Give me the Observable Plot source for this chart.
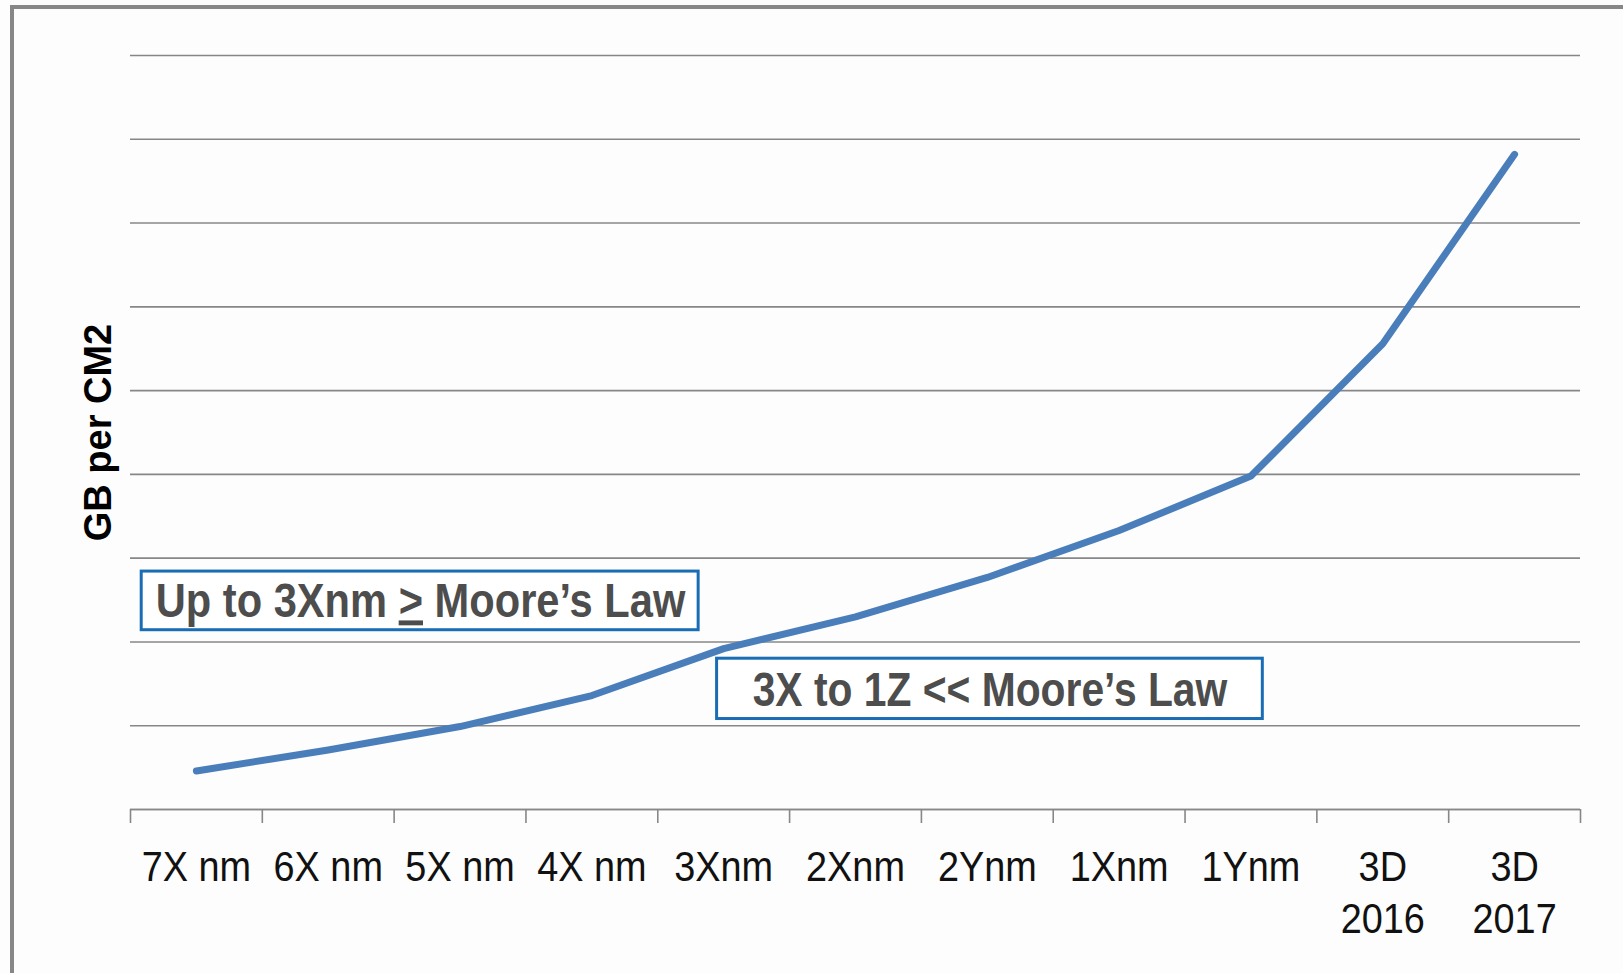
<!DOCTYPE html>
<html>
<head>
<meta charset="utf-8">
<script src="https://cdn.jsdelivr.net/npm/d3@7"></script>
<script src="https://cdn.jsdelivr.net/npm/@observablehq/plot@0.6"></script>
<style>
  html, body { margin: 0; padding: 0; background: #fdfdfd; overflow: hidden; }
  #wrap { position: relative; width: 1623px; height: 973px; }
  #frame { position: absolute; left: 10px; top: 5px; width: 2000px; height: 2000px;
           border-left: 4px solid #878787; border-top: 4px solid #878787; pointer-events: none; }
</style>
</head>
<body>
<div id="wrap"></div>
<script>
// ---- data ----
const categories = ["7X nm", "6X nm", "5X nm", "4X nm", "3Xnm", "2Xnm", "2Ynm", "1Xnm", "1Ynm", "3D\n2016", "3D\n2017"];
const density = [0.46, 0.71, 0.99, 1.36, 1.92, 2.30, 2.77, 3.33, 3.98, 5.56, 7.82];
const yTitle = "GB per CM2";
const noteLabels = ["Up to 3Xnm > Moore\u2019s Law", "3X to 1Z << Moore\u2019s Law"];

// ---- layout (annotation anchors in data units) ----
const noteLayout = [
  {x1: -0.415, x2: 3.81, y1: 2.14, y2: 2.84, tx: 1.70, ty: 2.48, size: 49},
  {x1: 3.95, x2: 8.09, y1: 1.08, y2: 1.80, tx: 6.02, ty: 1.42, size: 48}
];

const series = categories.map((c, i) => ({i, v: density[i]}));
const notes = noteLabels.map((label, k) => ({label, ...noteLayout[k]}));
const boundaries = d3.range(-0.5, categories.length, 1);
const gridColor = "#878787";
const sans = "'Liberation Sans', Arial, sans-serif";

const chart = Plot.plot({
  width: 1623,
  height: 973,
  marginLeft: 130,
  marginRight: 43,
  marginTop: 55,
  marginBottom: 164,
  style: {background: "transparent"},
  x: {type: "linear", domain: [-0.5, categories.length - 0.5], axis: null},
  y: {domain: [0, 9], axis: null},
  marks: [
    Plot.gridY({ticks: 9, stroke: gridColor, strokeOpacity: 1, strokeWidth: 1.6}),
    Plot.ruleY([0], {stroke: gridColor, strokeWidth: 1.6}),
    Plot.axisX(boundaries, {tickSize: 14, tickFormat: () => "", stroke: gridColor, strokeWidth: 1.6}),
    Plot.axisX(d3.range(categories.length), {
      tickSize: 0, tickPadding: 34, tickFormat: i => categories[i],
      fontSize: 43, fontFamily: sans, fill: "#111", lineHeight: 1.22
    }),
    Plot.text([yTitle], {
      frameAnchor: "left", dx: -32, rotate: -90, text: d => d, textAnchor: "middle", lineAnchor: "middle",
      fontSize: 38, fontWeight: "bold", fontFamily: sans, fill: "#000"
    }),
    Plot.line(series, {x: "i", y: "v", stroke: "#4a7ebb", strokeWidth: 7, strokeLinecap: "round", strokeLinejoin: "round"}),
    Plot.rect(notes, {x1: "x1", x2: "x2", y1: "y1", y2: "y2", fill: "#ffffff", stroke: "#1a6db5", strokeWidth: 3}),
    Plot.text(notes, {
      x: "tx", y: "ty", text: "label", fontSize: d => d.size, fontWeight: "bold",
      fontFamily: sans, fill: "#4d4d4d", textAnchor: "middle", lineAnchor: "middle"
    })
  ]
});

const wrap = document.getElementById("wrap");
wrap.appendChild(chart);
const frame = document.createElement("div");
frame.id = "frame";
wrap.appendChild(frame);

// underline the ">" of the first annotation
const ns = "http://www.w3.org/2000/svg";
const noteTexts = [];
chart.querySelectorAll("text").forEach(t => {
  if (noteLabels.includes(t.textContent)) {
    noteTexts.push(t);
    if (t.textContent.includes(" > ")) {
      const [a, b] = t.textContent.split(" > ");
      t.textContent = "";
      const s1 = document.createElementNS(ns, "tspan"); s1.textContent = a + " ";
      const s2 = document.createElementNS(ns, "tspan"); s2.textContent = ">";
      s2.setAttribute("text-decoration", "underline");
      s2.style.textDecoration = "underline";
      const s3 = document.createElementNS(ns, "tspan"); s3.textContent = " " + b;
      t.append(s1, s2, s3);
    }
  }
});

// horizontally condense text (emulates the narrow typeface of the original)
function condense(el, s) {
  const L = el.getComputedTextLength();
  el.setAttribute("textLength", (L * s).toFixed(1));
  el.setAttribute("lengthAdjust", "spacingAndGlyphs");
}
chart.querySelectorAll('g[aria-label="x-axis tick label"] text').forEach(t => {
  const spans = t.querySelectorAll("tspan");
  if (spans.length) spans.forEach(sp => condense(sp, 0.88));
  else condense(t, 0.88);
});
noteTexts.forEach(t => condense(t, 0.85));
</script>
</body>
</html>
